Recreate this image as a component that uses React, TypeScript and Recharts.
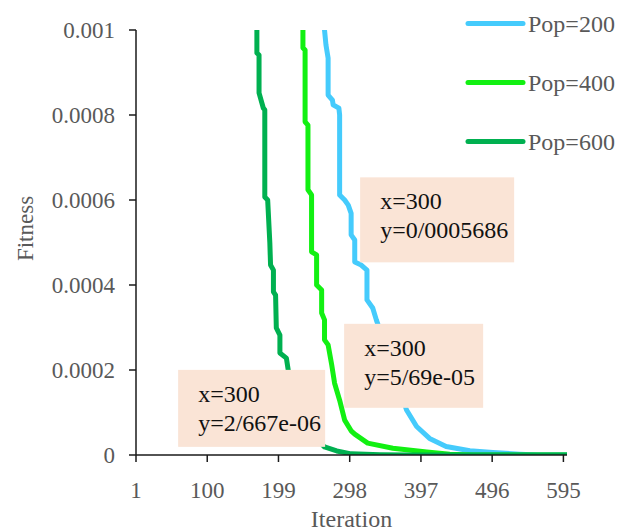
import React from 'react';
import { LineChart, Line, XAxis, YAxis, Legend, ReferenceDot } from 'recharts';

// Pop=200
const pop200Iter = [1, 263, 263, 265, 268, 268, 274, 275, 283, 284, 284, 291, 296, 300, 300, 305, 305, 314, 322, 322, 330, 335, 347, 360, 370, 377, 391, 409, 432, 465, 497, 534, 560, 600];
const pop200Fit = [0.05, 0.0015, 0.001, 0.000965, 0.000934, 0.000847, 0.000835, 0.000824, 0.000816, 0.0008, 0.000612, 0.0006, 0.000588, 0.0005686, 0.000518, 0.000506, 0.000454, 0.000447, 0.000435, 0.000365, 0.000346, 0.000318, 0.000259, 0.000188, 0.000141, 0.000106, 0.000067, 0.000039, 0.00002, 0.00001, 0.000006, 0.000002, 0, 0];

// Pop=400
const pop400Iter = [1, 233, 233, 236, 236, 240, 240, 245, 245, 252, 252, 259, 259, 263, 263, 268, 273, 277, 284, 291, 300, 305, 323, 358, 405, 437, 470, 600];
const pop400Fit = [0.05, 0.0015, 0.000958, 0.000953, 0.000784, 0.000776, 0.000624, 0.000612, 0.000478, 0.000471, 0.0004, 0.000388, 0.000334, 0.000318, 0.000271, 0.000259, 0.000212, 0.000169, 0.000129, 0.000082, 0.0000569, 0.000049, 0.000028, 0.000016, 0.000007, 0.000002, 0, 0];

// Pop=600
const pop600Iter = [1, 169, 169, 172, 172, 178, 180, 180, 184, 187, 188, 192, 192, 195, 196, 201, 201, 210, 213, 222, 229, 240, 251, 263, 280, 300, 340, 380, 600];
const pop600Fit = [0.05, 0.0015, 0.000946, 0.000941, 0.000852, 0.000816, 0.000812, 0.000607, 0.0006, 0.000499, 0.000447, 0.000435, 0.000384, 0.000376, 0.000299, 0.000282, 0.00024, 0.000228, 0.000195, 0.000141, 0.0001, 0.000064, 0.00004, 0.000019, 0.0000095, 0.000002667, 0.0000008, 0, 0];

const seriesNames = ['Pop=200', 'Pop=400', 'Pop=600'];
const seriesColors = ['#45CBFC', '#12F012', '#00B050'];

const xTicks = [1, 100, 199, 298, 397, 496, 595];
const yTicks = [0, 0.0002, 0.0004, 0.0006, 0.0008, 0.001];

const calloutX = [300, 300, 300];
const calloutY = [0.0005686, 0.0000569, 0.000002667];
const calloutXText = ['x=300', 'x=300', 'x=300'];
const calloutYText = ['y=0/0005686', 'y=5/69e-05', 'y=2/667e-06'];

const zip = (xs: number[], ys: number[]) => xs.map((it, i) => ({ it, v: ys[i] }));
const data200 = zip(pop200Iter, pop200Fit);
const data400 = zip(pop400Iter, pop400Fit);
const data600 = zip(pop600Iter, pop600Fit);

const FONT = '"Liberation Serif", "Times New Roman", serif';

// callout box placement relative to its point: dx, dy, width, height
const calloutBoxes = [
  { dx: 9, dy: -36, w: 154, h: 85 },
  { dx: -7, dy: -107, w: 139, h: 84 },
  { dx: -173, dy: -84, w: 147, h: 77 },
];

const makeCallout = (i: number) => (props: any) => {
  const { cx, cy } = props;
  const b = calloutBoxes[i];
  const x = cx + b.dx;
  const y = cy + b.dy;
  return (
    <g>
      <rect x={x} y={y} width={b.w} height={b.h} fill="#FAE4D6" />
      <text x={x + 20} y={y + 32} fontFamily={FONT} fontSize={24} fill="#111">{calloutXText[i]}</text>
      <text x={x + 20} y={y + 61} fontFamily={FONT} fontSize={24} fill="#111">{calloutYText[i]}</text>
    </g>
  );
};

const renderLegend = (props: any) => {
  const items = (props && props.payload) || [];
  return (
    <svg width={165} height={160} style={{ display: 'block' }}>
      {items.map((it: any, i: number) => (
        <g key={i}>
          <line x1={8} x2={63} y1={23.5 + i * 59} y2={23.5 + i * 59} stroke={it.color} strokeWidth={5} strokeLinecap="round" />
          <text x={68} y={32 + i * 59} fontFamily={FONT} fontSize={24} fill="#595959">{it.value}</text>
        </g>
      ))}
    </svg>
  );
};

const FitnessLabel = (props: any) => {
  const vb = props.viewBox || { x: 0, y: 30, width: 136, height: 425 };
  const x = vb.x + 33;
  const y = vb.y + vb.height / 2 - 14;
  return (
    <text x={x} y={y} transform={`rotate(-90 ${x} ${y})`} textAnchor="middle" fontFamily={FONT} fontSize={23} fill="#595959">
      Fitness
    </text>
  );
};

export default function App() {
  const tickStyle = { fill: '#595959', fontSize: 23, fontFamily: FONT };
  return (
    <div style={{ position: 'absolute', left: 0, top: 0, width: 625, height: 531, background: '#fff' }}>
      <LineChart width={625} height={531} margin={{ top: 30, right: 58, bottom: 0, left: 0 }}>
        <XAxis
          type="number"
          dataKey="it"
          domain={[1, 600]}
          ticks={xTicks}
          interval={0}
          height={76}
          tickSize={7}
          tickMargin={20}
          tick={tickStyle}
          axisLine={{ stroke: '#1a1a1a', strokeWidth: 1.5 }}
          tickLine={{ stroke: '#1a1a1a', strokeWidth: 1.5 }}
          label={{ value: 'Iteration', position: 'insideBottom', offset: 4, fill: '#595959', fontSize: 24, fontFamily: FONT }}
        />
        <YAxis
          type="number"
          domain={[0, 0.001]}
          allowDataOverflow
          ticks={yTicks}
          interval={0}
          width={136}
          tickSize={7}
          tickMargin={14}
          tick={tickStyle}
          tickFormatter={(v: number) => String(v)}
          axisLine={{ stroke: '#1a1a1a', strokeWidth: 1.5 }}
          tickLine={{ stroke: '#1a1a1a', strokeWidth: 1.5 }}
          label={<FitnessLabel />}
        />
        <Legend
          layout="vertical"
          align="center"
          verticalAlign="middle"
          content={renderLegend}
          wrapperStyle={{ left: 460, top: 0, width: 165 }}
        />
        <Line data={data200} dataKey="v" name={seriesNames[0]} stroke={seriesColors[0]} strokeWidth={5} dot={false} type="linear" strokeLinejoin="round" isAnimationActive={false} />
        <Line data={data400} dataKey="v" name={seriesNames[1]} stroke={seriesColors[1]} strokeWidth={5} dot={false} type="linear" strokeLinejoin="round" isAnimationActive={false} />
        <Line data={data600} dataKey="v" name={seriesNames[2]} stroke={seriesColors[2]} strokeWidth={5} dot={false} type="linear" strokeLinejoin="round" isAnimationActive={false} />
        {calloutX.map((cx, i) => (
          <ReferenceDot key={i} x={cx} y={calloutY[i]} r={1} shape={makeCallout(i)} />
        ))}
      </LineChart>
    </div>
  );
}
